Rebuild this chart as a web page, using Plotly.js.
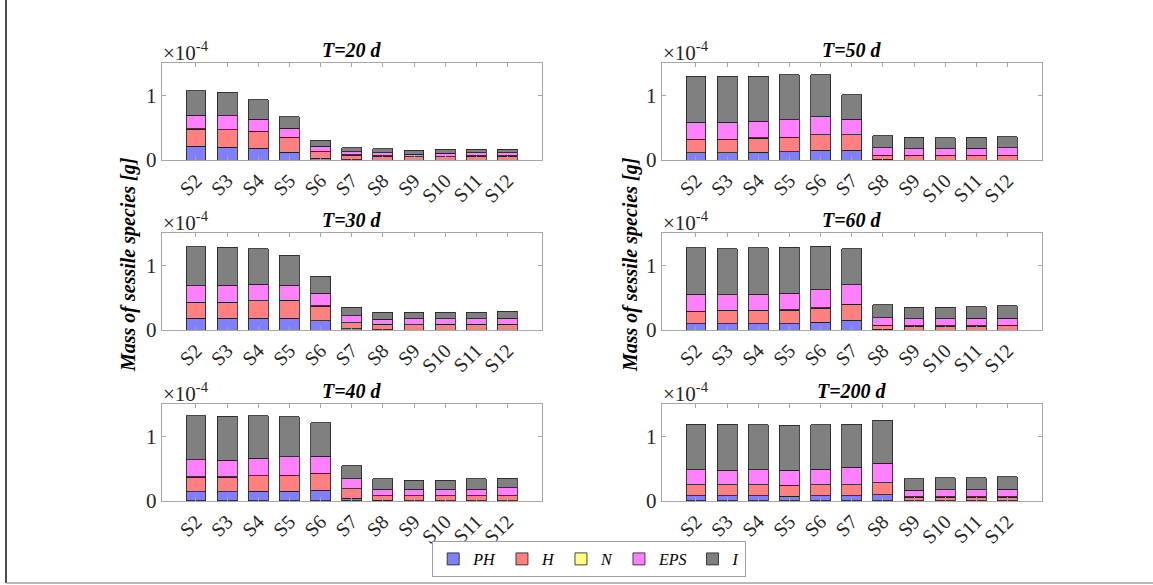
<!DOCTYPE html>
<html>
<head>
<meta charset="utf-8">
<script src="https://cdn.plot.ly/plotly-3.0.1.min.js"></script>
<style>html,body{margin:0;padding:0;background:#fff;}#chart{width:1153px;height:585px;}</style>
</head>
<body>
<div id="chart"></div>
<script>
// Categories (sites)
const sites = ['S2','S3','S4','S5','S6','S7','S8','S9','S10','S11','S12'];
const speciesNames = ['PH','H','N','EPS','I'];
const panelTitles = ['T=20 d','T=50 d','T=30 d','T=60 d','T=40 d','T=200 d'];

// Values in units of 1e-4 g
// T = 20 d
const PH20  = [0.21,0.20,0.18,0.12,0.03,0.005,0,0,0,0,0];
const H20   = [0.27,0.27,0.26,0.23,0.10,0.07,0.06,0.05,0.05,0.06,0.06];
const N20   = [0.003,0.003,0.003,0.003,0.003,0.003,0.003,0.003,0.003,0.003,0.003];
const EPS20 = [0.21,0.21,0.19,0.14,0.08,0.05,0.05,0.04,0.05,0.05,0.05];
const I20   = [0.38,0.37,0.30,0.18,0.09,0.06,0.06,0.06,0.06,0.05,0.05];
// T = 50 d
const PH50  = [0.11,0.11,0.12,0.13,0.15,0.15,0.01,0,0,0,0];
const H50   = [0.21,0.21,0.22,0.22,0.24,0.24,0.06,0.07,0.07,0.07,0.07];
const N50   = [0.003,0.003,0.003,0.003,0.003,0.003,0.003,0.003,0.003,0.003,0.003];
const EPS50 = [0.26,0.26,0.26,0.27,0.28,0.24,0.12,0.10,0.10,0.11,0.12];
const I50   = [0.72,0.72,0.70,0.70,0.65,0.38,0.18,0.18,0.17,0.17,0.17];
// T = 30 d
const PH30  = [0.18,0.18,0.18,0.18,0.14,0.02,0.005,0,0,0,0];
const H30   = [0.25,0.25,0.27,0.28,0.23,0.09,0.08,0.08,0.09,0.09,0.09];
const N30   = [0.003,0.003,0.003,0.003,0.003,0.003,0.003,0.003,0.003,0.003,0.003];
const EPS30 = [0.25,0.26,0.26,0.23,0.20,0.11,0.08,0.09,0.08,0.08,0.09];
const I30   = [0.61,0.59,0.55,0.47,0.26,0.13,0.11,0.10,0.10,0.10,0.11];
// T = 60 d
const PH60  = [0.10,0.10,0.10,0.10,0.12,0.15,0.01,0,0,0,0];
const H60   = [0.19,0.20,0.20,0.21,0.22,0.25,0.06,0.06,0.06,0.06,0.07];
const N60   = [0.003,0.003,0.003,0.003,0.003,0.003,0.003,0.003,0.003,0.003,0.003];
const EPS60 = [0.26,0.24,0.25,0.26,0.28,0.30,0.12,0.11,0.11,0.12,0.11];
const I60   = [0.72,0.72,0.72,0.71,0.68,0.56,0.20,0.18,0.18,0.18,0.19];
// T = 40 d
const PH40  = [0.14,0.14,0.15,0.15,0.17,0.04,0.01,0,0,0,0];
const H40   = [0.23,0.23,0.24,0.25,0.26,0.15,0.07,0.08,0.08,0.08,0.08];
const N40   = [0.003,0.003,0.003,0.003,0.003,0.003,0.003,0.003,0.003,0.003,0.003];
const EPS40 = [0.27,0.26,0.27,0.28,0.26,0.15,0.10,0.10,0.10,0.10,0.12];
const I40   = [0.68,0.68,0.66,0.62,0.52,0.20,0.16,0.14,0.14,0.16,0.15];
// T = 200 d
const PH200  = [0.08,0.08,0.08,0.07,0.08,0.08,0.10,0,0,0,0];
const H200   = [0.17,0.17,0.17,0.17,0.17,0.17,0.18,0.06,0.06,0.06,0.06];
const N200   = [0.004,0.004,0.004,0.004,0.004,0.004,0.004,0.003,0.003,0.003,0.003];
const EPS200 = [0.23,0.22,0.23,0.23,0.24,0.27,0.30,0.10,0.11,0.11,0.12];
const I200   = [0.71,0.72,0.70,0.70,0.69,0.67,0.67,0.18,0.19,0.19,0.19];

const yTickVals = [0, 1];
const yTickText = ['0', '1'];

const panels = [
  [PH20, H20, N20, EPS20, I20],
  [PH50, H50, N50, EPS50, I50],
  [PH30, H30, N30, EPS30, I30],
  [PH60, H60, N60, EPS60, I60],
  [PH40, H40, N40, EPS40, I40],
  [PH200, H200, N200, EPS200, I200]
];

const colors = ['#8080ff','#ff8080','#ffff80','#ff80ff','#808080'];
const W = 1153, H = 585;
const colX = [[161.7, 541.7], [661.7, 1041.7]];
const rowY = [[63.3, 160], [233.3, 330], [404.3, 501]];

const serif = '"Liberation Serif", "Times New Roman", serif';
const traces = [];
const layout = {
  width: W, height: H,
  margin: {l: 0, r: 0, t: 0, b: 0},
  paper_bgcolor: '#ffffff',
  plot_bgcolor: '#ffffff',
  barmode: 'stack',
  bargap: 0.36,
  showlegend: true,
  legend: {
    orientation: 'h',
    x: 0.511, xanchor: 'center',
    y: 1 - 559 / H, yanchor: 'middle',
    bordercolor: '#a0a0a0', borderwidth: 1,
    bgcolor: '#ffffff',
    font: {family: serif, size: 16, color: '#000', style: 'italic'},
    itemwidth: 30,
    tracegroupgap: 0,
    traceorder: 'normal'
  },
  annotations: [],
  shapes: [
    {type: 'line', xref: 'paper', yref: 'paper', x0: 6 / W, x1: 6 / W, y0: 1 - 583 / H, y1: 1, line: {color: '#111', width: 1.5}},
    {type: 'line', xref: 'paper', yref: 'paper', x0: 6 / W, x1: 1, y0: 1 - 583 / H, y1: 1 - 583 / H, line: {color: '#a0a0a0', width: 1.5}}
  ]
};

panels.forEach((series, p) => {
  const col = p % 2, row = Math.floor(p / 2);
  const xa = 'x' + (p === 0 ? '' : p + 1);
  const ya = 'y' + (p === 0 ? '' : p + 1);
  series.forEach((vals, s) => {
    traces.push({
      type: 'bar',
      x: sites, y: vals,
      xaxis: xa, yaxis: ya,
      name: speciesNames[s],
      legendgroup: speciesNames[s],
      showlegend: p === 0,
      marker: {color: colors[s], line: {color: 'rgba(30,30,30,0.9)', width: 0.9}},
      hoverinfo: 'skip'
    });
  });
  const xd = [colX[col][0] / W, colX[col][1] / W];
  const yd = [1 - rowY[row][1] / H, 1 - rowY[row][0] / H];
  const xkey = 'xaxis' + (p === 0 ? '' : p + 1);
  const ykey = 'yaxis' + (p === 0 ? '' : p + 1);
  layout[xkey] = {
    domain: xd, anchor: ya,
    type: 'category',
    range: [-1.1, 11.1],
    showline: true, linecolor: '#a6a6a6', linewidth: 1, mirror: 'ticks',
    ticks: 'inside', ticklen: 4, tickcolor: '#a6a6a6',
    tickangle: -45,
    tickfont: {family: serif, size: 20, color: '#262626'},
    showgrid: false, zeroline: false, fixedrange: true
  };
  layout[ykey] = {
    domain: yd, anchor: xa,
    range: [0, 1.5],
    tickvals: yTickVals, ticktext: yTickText,
    showline: true, linecolor: '#a6a6a6', linewidth: 1, mirror: 'ticks',
    ticks: 'inside', ticklen: 4, tickcolor: '#a6a6a6',
    tickfont: {family: serif, size: 21, color: '#262626'},
    showgrid: false, zeroline: false, fixedrange: true
  };
  // panel title
  layout.annotations.push({
    xref: 'paper', yref: 'paper',
    x: (colX[col][0] + colX[col][1]) / 2 / W, y: 1 - (rowY[row][0] - 13) / H,
    xanchor: 'center', yanchor: 'middle', showarrow: false,
    text: '<b><i>' + panelTitles[p] + '</i></b>',
    font: {family: serif, size: 20, color: '#000'}
  });
  // exponent label
  layout.annotations.push({
    xref: 'paper', yref: 'paper',
    x: (colX[col][0] - 1) / W, y: 1 - (rowY[row][0] - 12) / H,
    xanchor: 'left', yanchor: 'middle', showarrow: false,
    text: '\u00d710<sup>-4</sup>',
    font: {family: serif, size: 21, color: '#262626'}
  });
});

// y-axis labels (one per column)
[129, 631].forEach(xp => {
  layout.annotations.push({
    xref: 'paper', yref: 'paper',
    x: xp / W, y: 1 - 265 / H,
    xanchor: 'center', yanchor: 'middle', showarrow: false,
    textangle: -90,
    text: '<b><i>Mass of sessile species [g]</i></b>',
    font: {family: serif, size: 20, color: '#000'}
  });
});

Plotly.newPlot('chart', traces, layout, {staticPlot: true, displayModeBar: false});
</script>
</body>
</html>
